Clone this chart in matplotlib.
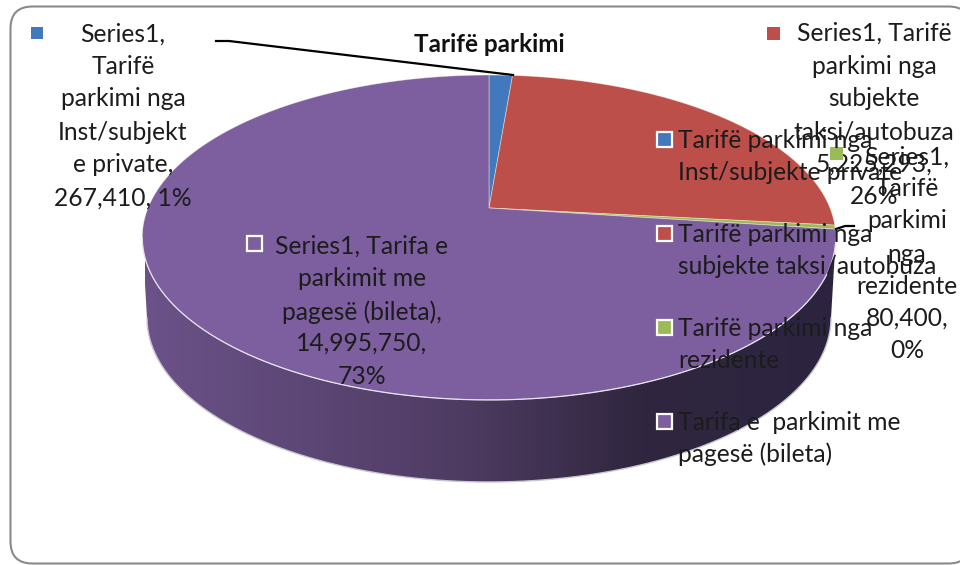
import numpy as np
import matplotlib
matplotlib.use('Agg')
import matplotlib.pyplot as plt
from matplotlib.colors import LinearSegmentedColormap
from matplotlib.patches import FancyBboxPatch, Polygon, Rectangle

plt.rcParams['font.family'] = ['Lato', 'DejaVu Sans']

# Data
categories = ['Tarifë parkimi nga Inst/subjekte private',
              'Tarifë parkimi nga subjekte taksi/autobuza',
              'Tarifë parkimi nga rezidente',
              'Tarifa e  parkimit me pagesë (bileta)']
values = [267410, 5225293, 80400, 14995750]
colors = ['#4279bd', '#bd4f4b', '#9bbb59', '#7d5fa0']
title = 'Tarifë parkimi'

# Pie geometry in pixels, k gives the perspective
cx, cy = 489, 208
rx, ry, k = 341, 157.1, 0.1815
text_col = '#1c1c1c'
fsize = 17.7


def project(theta):
    # theta in degrees, clockwise from the top
    t = np.radians(theta)
    u, v = np.sin(t), np.cos(t)
    return cx + rx * u / (1 + k * v), cy - ry * v / (1 + k * v)


fig = plt.figure(figsize=(9.6, 5.65), dpi=100)
ax = fig.add_axes([0, 0, 1, 1])
ax.set_xlim(0, 960)
ax.set_ylim(565, 0)
ax.axis('off')

# Chart frame
frame = FancyBboxPatch((10.5, 6.5), 960, 557, boxstyle='round,pad=0,rounding_size=22',
                       fc='white', ec='#8a8a8a', lw=1.5, zorder=0)
ax.add_patch(frame)

# Side wall of the pie
tt = np.linspace(100.6, 259.4, 200)
rim_x, rim_y = project(tt)
s = np.linspace(np.pi, 0, 200)
low_x = 489 + 342 * np.cos(s)
low_y = 318 + 164 * np.sin(s)
wall_pts = np.column_stack([np.r_[rim_x, low_x], np.r_[rim_y, low_y]])
wall = Polygon(wall_pts, closed=True, fc='none', ec='none', zorder=1)
ax.add_patch(wall)
cmap = LinearSegmentedColormap.from_list('wall', [(0, '#6b5289'), (0.45, '#4f3c63'),
                                                  (0.72, '#30263f'), (1, '#2c2440')])
img = ax.imshow(np.linspace(0, 1, 256).reshape(1, -1), extent=(145, 835, 490, 230),
                cmap=cmap, aspect='auto', zorder=1)
img.set_clip_path(wall)
ax.set_xlim(0, 960)
ax.set_ylim(565, 0)
ax.plot(low_x, low_y, color='#c9c5d2', lw=1, zorder=2)

# Top of the pie
angles = np.r_[0, np.cumsum(values)] / np.sum(values) * 360
for i in range(len(values)):
    th = np.linspace(angles[i], angles[i + 1], 200)
    x, y = project(th)
    ax.fill(np.r_[cx, x], np.r_[cy, y], color=colors[i], ec=(1, 1, 0.9, 0.45), lw=0.6, zorder=3)
ax.plot(rim_x, rim_y, color='#e6e2ee', lw=0.9, zorder=4)

# Leader lines
ax.plot([216, 229, 513], [41, 41, 75], color='black', lw=1.6, zorder=5)
ax.plot([836, 845, 854], [229, 226, 226], color='black', lw=1.6, zorder=5)

ax.text(489, 44, title, ha='center', va='center', fontsize=17.5, fontweight='bold',
        color='#111111', zorder=6)


def put_lines(lines, x, ys, ha='center'):
    for line, y in zip(lines, ys):
        ax.text(x, y, line, ha=ha, va='center', fontsize=fsize, color=text_col, zorder=6)


def key(x, y, size, col, border=False):
    if border:
        ax.add_patch(Rectangle((x - 0.8, y - 0.8), size + 1.6, size + 1.6, fc='#8a8a8a',
                               ec='none', alpha=0.5, zorder=5))
        ax.add_patch(Rectangle((x, y), size, size, fc=col, ec='white', lw=1.6, zorder=6))
    else:
        ax.add_patch(Rectangle((x, y), size, size, fc=col, ec='none', zorder=6))


# Data labels
key(31, 27, 12, colors[0])
put_lines(['Series1,', 'Tarifë', 'parkimi nga', 'Inst/subjekt', 'e private,', '267,410, 1%'],
          123, [34, 66, 99, 132, 165, 198])
key(767, 27, 13, colors[1])
put_lines(['Series1, Tarifë', 'parkimi nga', 'subjekte', 'taksi/autobuza', '5,225,293,', '26%'],
          874, [33, 66, 99, 132, 164, 197])
key(830, 147, 13, colors[2])
put_lines(['Series1,', 'Tarifë', 'parkimi', 'nga', 'rezidente', '80,400,', '0%'],
          907, [157, 188, 220, 255, 286, 318, 350])
key(247, 236, 15, colors[3], border=True)
put_lines(['Series1, Tarifa e', 'parkimit me', 'pagesë (bileta),', '14,995,750,', '73%'],
          362, [246, 279, 312, 343, 376])

# Legend
legend_lines = [['Tarifë parkimi nga', 'Inst/subjekte private'],
                ['Tarifë parkimi nga', 'subjekte taksi/autobuza'],
                ['Tarifë parkimi nga', 'rezidente'],
                ['Tarifa e  parkimit me', 'pagesë (bileta)']]
legend_y = [140, 234, 328, 422]
for lines, y, col in zip(legend_lines, legend_y, colors):
    key(657, y - 8, 15, col, border=True)
    put_lines(lines, 678, [y, y + 32], ha='left')

fig.savefig('out.png', dpi=100)
